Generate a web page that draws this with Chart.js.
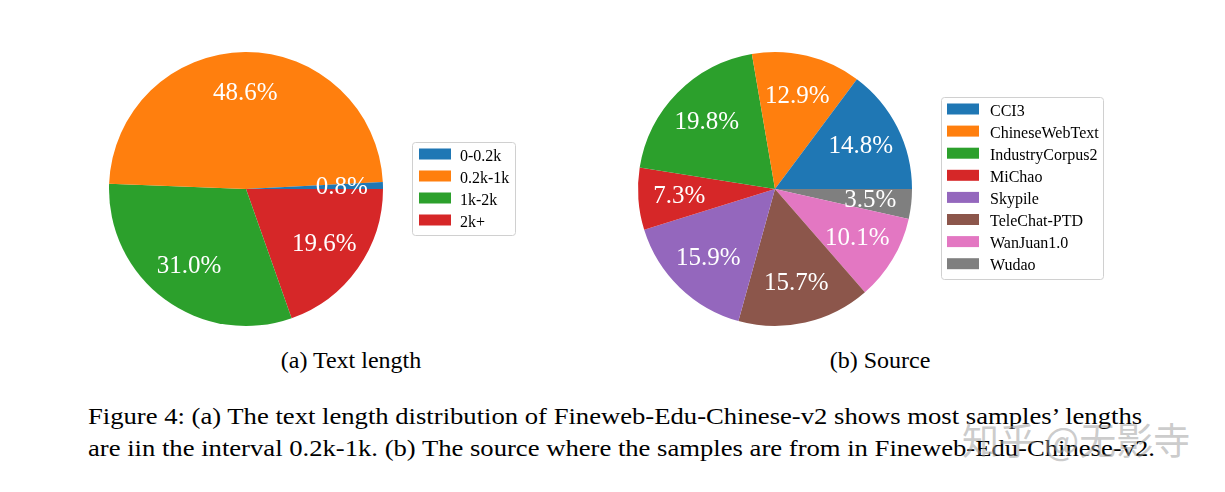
<!DOCTYPE html>
<html>
<head>
<meta charset="utf-8">
<script src="https://cdn.jsdelivr.net/npm/chart.js@4.4.1/dist/chart.umd.min.js"></script>
<style>
  html, body { margin: 0; padding: 0; background: #fff; }
  body { width: 1225px; height: 492px; position: relative; overflow: hidden; font-family: "Liberation Serif", "DejaVu Serif", serif; }
  .abs { position: absolute; }
  .sub { font-size: 24px; line-height: 24px; white-space: nowrap; color: #000; text-align: center; width: 300px; }
  .cap { font-size: 24px; line-height: 24px; white-space: nowrap; color: #000; left: 88px; transform: scaleX(1.11); transform-origin: 0 0; }
  .wm { font-family: "Noto Sans CJK SC", sans-serif; font-size: 37px; line-height: 37px; color: rgba(160,160,160,0.55); white-space: nowrap; }
</style>
</head>
<body>
<div class="abs" style="left:100px;top:40px;width:430px;height:300px;"><canvas id="c1" width="430" height="300"></canvas></div>
<div class="abs" style="left:630px;top:40px;width:480px;height:300px;"><canvas id="c2" width="480" height="300"></canvas></div>
<div class="abs sub" style="left:201px;top:348px;">(a) Text length</div>
<div class="abs sub" style="left:730px;top:348px;">(b) Source</div>
<div class="abs cap" style="top:404px;">Figure 4: (a) The text length distribution of Fineweb-Edu-Chinese-v2 shows most samples’ lengths</div>
<div class="abs cap" style="top:436px;">are iin the interval 0.2k-1k. (b) The source where the samples are from in Fineweb-Edu-Chinese-v2.</div>
<div class="abs wm" style="left:962px;top:421px;">知乎 @无影寺</div>
<script>
// ---- data ----
const lengthLabels = ["0-0.2k", "0.2k-1k", "1k-2k", "2k+"];
const lengthValues = [0.8, 48.6, 31.0, 19.6];
const sourceLabels = ["CCI3", "ChineseWebText", "IndustryCorpus2", "MiChao", "Skypile", "TeleChat-PTD", "WanJuan1.0", "Wudao"];
const sourceValues = [14.8, 12.9, 19.8, 7.3, 15.9, 15.7, 10.1, 3.5];
const tab10 = ["#1f77b4", "#ff7f0e", "#2ca02c", "#d62728", "#9467bd", "#8c564b", "#e377c2", "#7f7f7f"];

const SERIF = '"Liberation Serif", "DejaVu Serif", serif';

// Matplotlib draws counter-clockwise from 3 o'clock; Chart.js goes clockwise,
// so the dataset is fed in reversed order starting at 3 o'clock.
function rev(a) { return a.slice().reverse(); }

function pctLabelPlugin() {
  return {
    id: 'pctLabels',
    afterDatasetsDraw(chart) {
      const ctx = chart.ctx;
      const meta = chart.getDatasetMeta(0);
      const data = chart.data.datasets[0].data;
      ctx.save();
      ctx.font = '25px ' + SERIF;
      ctx.fillStyle = '#ffffff';
      ctx.textAlign = 'center';
      ctx.textBaseline = 'alphabetic';
      meta.data.forEach((arc, i) => {
        const p = arc.getProps(['x', 'y', 'startAngle', 'endAngle', 'outerRadius'], true);
        const mid = (p.startAngle + p.endAngle) / 2;
        const d = 0.7 * p.outerRadius;
        const x = p.x + Math.cos(mid) * d;
        const y = p.y + Math.sin(mid) * d;
        ctx.fillText(data[i].toFixed(1) + '%', x, y + 7);
      });
      ctx.restore();
    }
  };
}

function roundRect(ctx, x, y, w, h, r) {
  ctx.beginPath();
  ctx.moveTo(x + r, y);
  ctx.lineTo(x + w - r, y);
  ctx.arcTo(x + w, y, x + w, y + r, r);
  ctx.lineTo(x + w, y + h - r);
  ctx.arcTo(x + w, y + h, x + w - r, y + h, r);
  ctx.lineTo(x + r, y + h);
  ctx.arcTo(x, y + h, x, y + h - r, r);
  ctx.lineTo(x, y + r);
  ctx.arcTo(x, y, x + r, y, r);
  ctx.closePath();
}

function legendPlugin(labels, colors, L) {
  return {
    id: 'boxLegend',
    afterDraw(chart) {
      const ctx = chart.ctx;
      ctx.save();
      roundRect(ctx, L.fx + 0.5, L.fy + 0.5, L.fw, L.fh, 3);
      ctx.fillStyle = 'rgba(255,255,255,0.8)';
      ctx.fill();
      ctx.strokeStyle = '#d0d0d0';
      ctx.lineWidth = 1;
      ctx.stroke();
      ctx.font = '16px ' + SERIF;
      ctx.textAlign = 'left';
      ctx.textBaseline = 'alphabetic';
      labels.forEach((lab, i) => {
        const top = L.py + i * L.step;
        ctx.fillStyle = colors[i];
        ctx.fillRect(L.px, top, 32, 11);
        ctx.fillStyle = '#000';
        ctx.fillText(lab, L.tx, top + 12);
      });
      ctx.restore();
    }
  };
}

function makePie(id, labels, values, pad, radius, L) {
  const colors = tab10.slice(0, labels.length);
  return new Chart(document.getElementById(id), {
    type: 'pie',
    data: {
      labels: rev(labels),
      datasets: [{
        data: rev(values),
        backgroundColor: rev(colors),
        borderWidth: 0,
        hoverOffset: 0,
        offset: 0
      }]
    },
    options: {
      responsive: false,
      animation: false,
      rotation: 90,
      radius: radius,
      layout: { padding: pad },
      events: [],
      plugins: {
        legend: { display: false },
        tooltip: { enabled: false },
        title: { display: false }
      }
    },
    plugins: [pctLabelPlugin(), legendPlugin(labels, colors, L)]
  });
}

makePie('c1', lengthLabels, lengthValues,
  { left: 9, top: 12, right: 147, bottom: 14 }, 137,
  { fx: 312, fy: 102, fw: 103, fh: 93, px: 319, py: 108.5, step: 22, tx: 360 });

makePie('c2', sourceLabels, sourceValues,
  { left: 8, top: 12, right: 198, bottom: 14 }, 137,
  { fx: 311, fy: 57, fw: 162, fh: 182, px: 317, py: 63.5, step: 22.1, tx: 360 });
</script>
</body>
</html>
